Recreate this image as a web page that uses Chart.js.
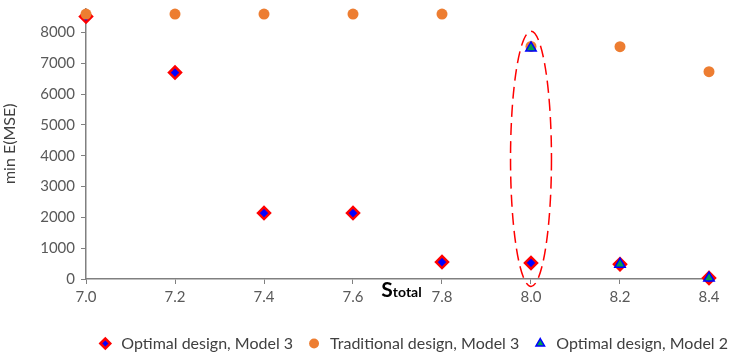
<!DOCTYPE html>
<html>
<head>
<meta charset="utf-8">
<script src="https://cdn.jsdelivr.net/npm/chart.js@4"></script>
<style>
  html, body { margin: 0; padding: 0; background: #fff; }
  #wrap { width: 730px; height: 356px; }
</style>
</head>
<body>
<div id="wrap"><canvas id="c" width="730" height="356"></canvas></div>
<script>
// S_total values on the x axis
const sTotal = [7.0, 7.2, 7.4, 7.6, 7.8, 8.0, 8.2, 8.4];

// min E(MSE) for each design
const optimalModel3 = [8520, 6700, 2140, 2140, 550, 520, 480, 30];
const traditionalModel3 = [8600, 8600, 8600, 8600, 8600, 7550, 7540, 6730];
const optimalModel2X = [8.0, 8.2, 8.4];
const optimalModel2 = [7500, 480, 30];

// axis tick values
const xTicks = [7.0, 7.2, 7.4, 7.6, 7.8, 8.0, 8.2, 8.4];
const yTicks = [0, 1000, 2000, 3000, 4000, 5000, 6000, 7000, 8000];

// highlighted region around S_total = 8.0
const highlight = { x: 8.0, halfWidth: 0.046, yTop: 8040, yBottom: -240 };

const FONT = "Lato, 'Liberation Sans', sans-serif";
const GREY = '#595959';
const LOWER_BAND = 77;   // space under the plot for tick labels and legend

function toPoints(xs, ys) {
  return xs.map((x, i) => ({ x: x, y: ys[i] }));
}

const ellipsePlugin = {
  id: 'highlightEllipse',
  afterDatasetsDraw(chart) {
    const { ctx, scales } = chart;
    const cx = scales.x.getPixelForValue(highlight.x);
    const rx = scales.x.getPixelForValue(highlight.x + highlight.halfWidth) - cx;
    const yt = scales.y.getPixelForValue(highlight.yTop);
    const yb = scales.y.getPixelForValue(highlight.yBottom);
    ctx.save();
    ctx.beginPath();
    ctx.ellipse(cx, (yt + yb) / 2, rx, (yb - yt) / 2, 0, 0, Math.PI * 2);
    ctx.setLineDash([12, 6]);
    ctx.lineWidth = 1.5;
    ctx.strokeStyle = '#ff0000';
    ctx.stroke();
    ctx.restore();
  }
};

// x axis title "S" with a smaller "total" sitting on the same baseline
const xTitlePlugin = {
  id: 'xTitle',
  afterDraw(chart) {
    const { ctx, chartArea } = chart;
    const cx = (chartArea.left + chartArea.right) / 2 + 4;
    const base = chartArea.bottom + 18;
    ctx.save();
    ctx.fillStyle = '#000';
    ctx.textBaseline = 'alphabetic';
    ctx.font = "bold 21px " + FONT;
    const wS = ctx.measureText('S').width;
    ctx.font = "bold 14px " + FONT;
    const wT = ctx.measureText('total').width;
    const left = cx - (wS + wT) / 2;
    ctx.font = "bold 21px " + FONT;
    ctx.fillText('S', left, base);
    ctx.font = "bold 14px " + FONT;
    ctx.fillText('total', left + wS, base);
    ctx.restore();
  }
};

// place the legend row flush right and near the bottom edge
const legendShift = {
  id: 'legendShift',
  afterLayout(chart) {
    const lg = chart.legend;
    if (!lg) return;
    lg.left += 32; lg.right += 32;
    const h = lg.bottom - lg.top;
    lg.top = 342 - h / 2;
    lg.bottom = lg.top + h;
  }
};

new Chart(document.getElementById('c'), {
  type: 'scatter',
  data: {
    datasets: [
      {
        label: 'Optimal design, Model 3',
        data: toPoints(sTotal, optimalModel3),
        pointStyle: 'rectRot',
        pointRadius: 6,
        pointHoverRadius: 6,
        backgroundColor: '#0000ff',
        borderColor: '#ff0000',
        borderWidth: 2.5,
        order: 3,
        clip: false
      },
      {
        label: 'Traditional design, Model 3',
        data: toPoints(sTotal, traditionalModel3),
        pointStyle: 'circle',
        pointRadius: 5.5,
        pointHoverRadius: 5.5,
        backgroundColor: '#ed7d31',
        borderColor: '#ed7d31',
        borderWidth: 0,
        order: 2,
        clip: false
      },
      {
        label: 'Optimal design, Model 2',
        data: toPoints(optimalModel2X, optimalModel2),
        pointStyle: 'triangle',
        pointRadius: 6,
        pointHoverRadius: 6,
        backgroundColor: '#00a050',
        borderColor: '#0000ff',
        borderWidth: 1.5,
        order: 1,
        clip: false
      }
    ]
  },
  options: {
    responsive: false,
    animation: false,
    devicePixelRatio: 1,
    layout: { padding: { left: 0, right: 21, top: 4, bottom: 0 } },
    plugins: {
      tooltip: { enabled: false },
      legend: {
        position: 'bottom',
        align: 'end',
        labels: {
          usePointStyle: true,
          font: { family: FONT, size: 16 },
          color: '#404040',
          padding: 13,
          boxHeight: 7,
          sort: (a, b) => a.datasetIndex - b.datasetIndex
        }
      }
    },
    scales: {
      x: {
        type: 'linear',
        min: 7.0,
        max: 8.4,
        afterBuildTicks(scale) { scale.ticks = xTicks.map(v => ({ value: v })); },
        afterFit(scale) {
          const lg = scale.chart.legend;
          scale.height = LOWER_BAND - (lg ? lg.height : 0);
          scale.paddingLeft = 0; scale.paddingRight = 0;
        },
        ticks: {
          color: GREY,
          font: { family: FONT, size: 15 },
          padding: 4,
          callback: v => Number(v).toFixed(1)
        },
        grid: { drawOnChartArea: false, drawTicks: true, tickLength: 5, color: '#808080', lineWidth: 1 },
        border: { display: true, color: '#808080', width: 1.5 }
      },
      y: {
        min: 0,
        max: 8780,
        afterBuildTicks(scale) { scale.ticks = yTicks.map(v => ({ value: v })); },
        afterFit(scale) { scale.width = 86; scale.paddingTop = 0; scale.paddingBottom = 0; },
        ticks: {
          color: GREY,
          font: { family: FONT, size: 15 },
          padding: 6,
          callback: v => String(v)
        },
        title: {
          display: true,
          text: 'min E(MSE)',
          color: '#404040',
          font: { family: FONT, size: 16 },
          padding: { top: 0, bottom: 2 }
        },
        grid: { drawOnChartArea: false, drawTicks: true, tickLength: 5, color: '#808080', lineWidth: 1 },
        border: { display: true, color: '#808080', width: 1.5 }
      }
    }
  },
  plugins: [ellipsePlugin, xTitlePlugin, legendShift]
});
</script>
</body>
</html>
